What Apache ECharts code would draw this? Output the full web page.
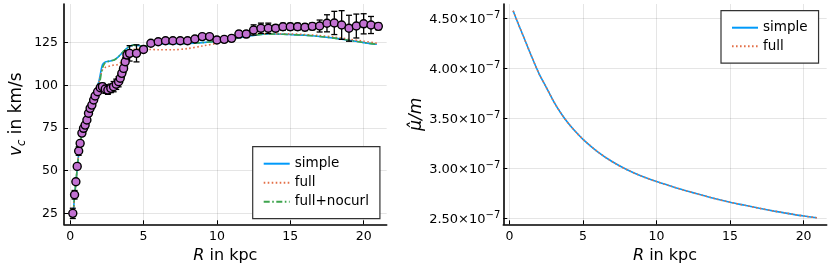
<!DOCTYPE html>
<html><head><meta charset="utf-8">
<script src="https://cdn.jsdelivr.net/npm/echarts@6/dist/echarts.min.js"></script>
<style>html,body{margin:0;padding:0;background:#fff}#c{width:831px;height:277px}</style>
</head><body><div id="c"></div>
<script>
// ---------- data ----------
const R_DATA = [0.18,0.30,0.39,0.48,0.58,0.68,0.80,0.91,1.02,1.14,1.25,1.36,1.48,1.60,1.70,1.87,2.05,2.20,2.39,2.57,2.77,2.96,3.14,3.30,3.41,3.52,3.64,3.75,3.87,4.05,4.52,5.0,5.5,6.0,6.5,7.0,7.5,8.0,8.5,9.0,9.5,10.0,10.5,11.0,11.5,12.0,12.5,13.0,13.5,14.0,14.5,15.0,15.5,16.0,16.5,17.0,17.5,18.0,18.5,19.0,19.5,20.0,20.5,21.0];
const V_DATA = [25,35.9,43.5,52.5,61.5,66,72,74.8,76.7,79.7,83.6,86.5,88.4,91.4,93.7,96.2,98.6,99.2,97.8,97.2,98.2,99.2,100.6,102.1,104.1,107,109.9,113.8,117.7,118.7,118.7,121,124.6,125.5,126.1,126.1,126.1,126.1,127.1,128.5,128.5,126.5,126.9,127.5,130,130,132.4,133.4,133.4,133.4,134.3,134.3,134.3,134,134.5,134.7,136.3,136.5,135.3,133.4,134.7,136,135.3,134.5];
const V_ERR  = [3,2.5,1.5,1.5,2.5,1.5,1.5,1.5,1.5,1.5,1.5,1.5,1.5,1.5,1.5,1.5,2,2,2.5,2.5,2.5,3,3,3,2.5,2.5,2.5,2.5,2.5,4.5,5,1.5,1,1,1,1,1,1,1,1,1,1.5,1.5,1.5,2,2,3,3,3,2,2,2,2,2,2,3.5,5,6.8,8.4,7.6,7,5.9,5,2];

const R_MODEL  = [0.2,0.3,0.4,0.5,0.6,0.8,1.0,1.2,1.4,1.6,1.8,2.0,2.2,2.4,2.6,2.8,3.0,3.2,3.4,3.6,3.8,4.0,4.3,4.6,5,5.5,6,7,8,9,10,11,12,13,14,15,16,17,18,19,20,20.9];
const V_SIMPLE = [24,35,44,53,61,71,77,82,87,92,97,104,112,113.7,114,114.4,114.8,116,117.7,119.5,121.2,122.5,123.5,123.3,123,123.5,124.2,124.3,124.5,125,125.8,127,128.6,129.8,130,129.7,129.3,128.6,127.6,126.4,125,124];
const V_FULL   = [24,35,44,53,61,71,77,82,87,92,96.5,103,109,110.5,111,111.5,111.9,112,113,114.8,117.5,120,121,121.2,121,121,120.8,120.8,121.5,123,124.6,127,128.8,130,130.2,130.1,129.7,129.1,128.2,127,125.8,124.6];
const V_NOCURL = [24,35,44,53,61,71,77,82,87,92,95,101,110,113.5,114,114.4,114.8,116,117.7,119.5,121.2,122.5,123.5,123.3,123,123.5,124.2,124.3,124.5,125,125.8,127,128.6,129.8,130,129.7,129.3,128.6,127.6,126.4,125,124];

const R_MU      = [0.25,0.5,0.75,1,1.5,2,2.5,3,3.5,4,4.5,5,6,7,8,9,10,11,12,13,14,15,16,17,18,19,20,20.9];
const MU_SIMPLE = [4.576e-7,4.48e-7,4.39e-7,4.30e-7,4.12e-7,3.95e-7,3.81e-7,3.67e-7,3.55e-7,3.45e-7,3.365e-7,3.29e-7,3.165e-7,3.065e-7,2.985e-7,2.92e-7,2.867e-7,2.82e-7,2.775e-7,2.735e-7,2.695e-7,2.66e-7,2.63e-7,2.60e-7,2.572e-7,2.547e-7,2.523e-7,2.506e-7];
const MU_FULL   = [4.576e-7,4.48e-7,4.39e-7,4.30e-7,4.12e-7,3.95e-7,3.81e-7,3.67e-7,3.55e-7,3.45e-7,3.365e-7,3.29e-7,3.165e-7,3.065e-7,2.985e-7,2.92e-7,2.867e-7,2.82e-7,2.775e-7,2.735e-7,2.695e-7,2.66e-7,2.63e-7,2.60e-7,2.572e-7,2.547e-7,2.523e-7,2.506e-7];

const X_TICKS  = [0,5,10,15,20];
const V_TICKS  = [25,50,75,100,125];
const MU_TICKS = [2.5e-7,3.0e-7,3.5e-7,4.0e-7,4.5e-7];

// ---------- chart ----------
const FONT = 'DejaVu Sans';
const BLUE = '#009AFA', ORANGE = '#E36F47', GREEN = '#3EA44E', PURPLE = '#C271D2';
const zip = (a, b) => a.map((v, i) => [v, b[i]]);

function xAxis(idx) {
  return {
    gridIndex: idx, type: 'value', min: -0.42, max: 21.57,
    name: '{i|R} in kpc', nameLocation: 'middle', nameGap: 22,
    nameTextStyle: { fontFamily: FONT, fontSize: 16, color: '#000',
      rich: { i: { fontFamily: FONT, fontSize: 16, fontStyle: 'italic', color: '#000' } } },
    axisLine: { show: true, onZero: false, lineStyle: { color: '#000', width: 1.6 } },
    axisTick: { show: true, inside: true, length: 4, customValues: X_TICKS, lineStyle: { color: '#000', width: 1 } },
    axisLabel: { customValues: X_TICKS, fontFamily: FONT, fontSize: 12.5, color: '#000', margin: 6 },
    splitLine: { show: true, lineStyle: { color: 'rgba(0,0,0,0.1)', width: 1 } }
  };
}

function legend(left, top, names, gap) {
  return {
    left: left, top: top, orient: 'vertical', data: names,
    itemWidth: 26, itemHeight: 14, itemGap: gap, itemTextGap: 10,
    padding: [10, 11, 10, 10], borderColor: '#333', borderWidth: 1.2, backgroundColor: '#fff',
    itemStyle: { opacity: 0, borderWidth: 0 },
    textStyle: { fontFamily: FONT, fontSize: 13.5, color: '#000' }
  };
}

const option = {
  backgroundColor: '#fff',
  animation: false,
  textStyle: { fontFamily: FONT },
  grid: [
    { left: 64, right: 444.3, top: 4, bottom: 52.7 },
    { left: 503.3, right: 4.3, top: 4, bottom: 52.7 }
  ],
  xAxis: [xAxis(0), xAxis(1)],
  yAxis: [
    {
      gridIndex: 0, type: 'value', min: 18.6, max: 147.6,
      name: '{i|v}{s|c}{n| in km/s}', nameLocation: 'middle', nameGap: 36,
      nameTextStyle: { fontFamily: FONT, fontSize: 17, color: '#000',
        rich: {
          i: { fontFamily: FONT, fontSize: 17, fontStyle: 'italic', color: '#000', verticalAlign: 'top' },
          s: { fontFamily: FONT, fontSize: 11.5, fontStyle: 'italic', color: '#000', verticalAlign: 'top', padding: [8, 0, 0, 0] },
          n: { fontFamily: FONT, fontSize: 17, color: '#000', verticalAlign: 'top' }
        } },
      axisLine: { show: true, onZero: false, lineStyle: { color: '#000', width: 1.6 } },
      axisTick: { show: true, inside: true, length: 4, customValues: V_TICKS, lineStyle: { color: '#000', width: 1 } },
      axisLabel: { customValues: V_TICKS, fontFamily: FONT, fontSize: 12.5, color: '#000', margin: 6 },
      splitLine: { show: true, lineStyle: { color: 'rgba(0,0,0,0.1)', width: 1 } }
    },
    {
      gridIndex: 1, type: 'value', min: 2.44e-7, max: 4.643e-7,
      name: '{i|\u03bc\u0302/m}', nameLocation: 'middle', nameGap: 76,
      nameTextStyle: { fontFamily: FONT, fontSize: 17, color: '#000',
        rich: { i: { fontFamily: FONT, fontSize: 17, fontStyle: 'italic', color: '#000' } } },
      axisLine: { show: true, onZero: false, lineStyle: { color: '#000', width: 1.6 } },
      axisTick: { show: true, inside: true, length: 4, customValues: MU_TICKS, lineStyle: { color: '#000', width: 1 } },
      axisLabel: {
        customValues: MU_TICKS, fontFamily: FONT, fontSize: 13, color: '#000', margin: 3,
        formatter: v => '{b|' + (v / 1e-7).toFixed(2) + '×10}{s|\u22127}',
        rich: {
          b: { fontFamily: FONT, fontSize: 13, color: '#000', verticalAlign: 'bottom' },
          s: { fontFamily: FONT, fontSize: 10, color: '#000', verticalAlign: 'bottom', padding: [0, 0, 6, 0] }
        }
      },
      splitLine: { show: true, lineStyle: { color: 'rgba(0,0,0,0.1)', width: 1 } }
    }
  ],
  legend: [
    legend(252.7, 146.7, ['simple', 'full', 'full+nocurl'], 5),
    legend(721, 10.7, ['simple', 'full'], 4.5)
  ],
  series: [
    { name: 'simple', type: 'line', xAxisIndex: 0, yAxisIndex: 0, data: zip(R_MODEL, V_SIMPLE),
      symbol: 'none', smooth: 0.3, color: BLUE, lineStyle: { color: BLUE, width: 1.6 }, z: 2 },
    { name: 'full', type: 'line', xAxisIndex: 0, yAxisIndex: 0, data: zip(R_MODEL, V_FULL),
      symbol: 'none', smooth: 0.3, color: ORANGE, lineStyle: { color: ORANGE, width: 1.6, type: [1.6, 2.4] }, z: 3 },
    { name: 'full+nocurl', type: 'line', xAxisIndex: 0, yAxisIndex: 0, data: zip(R_MODEL, V_NOCURL),
      symbol: 'none', smooth: 0.3, color: GREEN, lineStyle: { color: GREEN, width: 1.6, type: [6, 2.5, 1.6, 2.5] }, z: 4 },
    { name: 'errors', type: 'custom', xAxisIndex: 0, yAxisIndex: 0, z: 5,
      data: R_DATA.map((r, i) => [r, V_DATA[i], V_ERR[i]]),
      renderItem: (params, api) => {
        const x = api.value(0), y = api.value(1), e = api.value(2);
        const lo = api.coord([x, y - e]), hi = api.coord([x, y + e]);
        const st = { stroke: '#000', lineWidth: 1.3 };
        return { type: 'group', children: [
          { type: 'line', shape: { x1: lo[0], y1: lo[1], x2: hi[0], y2: hi[1] }, style: st },
          { type: 'line', shape: { x1: lo[0] - 3, y1: lo[1], x2: lo[0] + 3, y2: lo[1] }, style: st },
          { type: 'line', shape: { x1: hi[0] - 3, y1: hi[1], x2: hi[0] + 3, y2: hi[1] }, style: st }
        ] };
      } },
    { name: 'data', type: 'scatter', xAxisIndex: 0, yAxisIndex: 0, z: 6,
      data: zip(R_DATA, V_DATA), symbol: 'circle', symbolSize: 8,
      itemStyle: { color: PURPLE, borderColor: '#000', borderWidth: 1.4, opacity: 1 } },
    { name: 'simple', type: 'line', xAxisIndex: 1, yAxisIndex: 1, data: zip(R_MU, MU_SIMPLE),
      symbol: 'none', smooth: 0.3, color: BLUE, lineStyle: { color: BLUE, width: 1.6 }, z: 2 },
    { name: 'full', type: 'line', xAxisIndex: 1, yAxisIndex: 1, data: zip(R_MU, MU_FULL),
      symbol: 'none', smooth: 0.3, color: ORANGE, lineStyle: { color: ORANGE, width: 1.6, type: [1.6, 2.4] }, z: 3 }
  ]
};
const chart = echarts.init(document.getElementById('c'), null, { renderer: 'canvas' });
chart.setOption(option);
</script></body></html>
